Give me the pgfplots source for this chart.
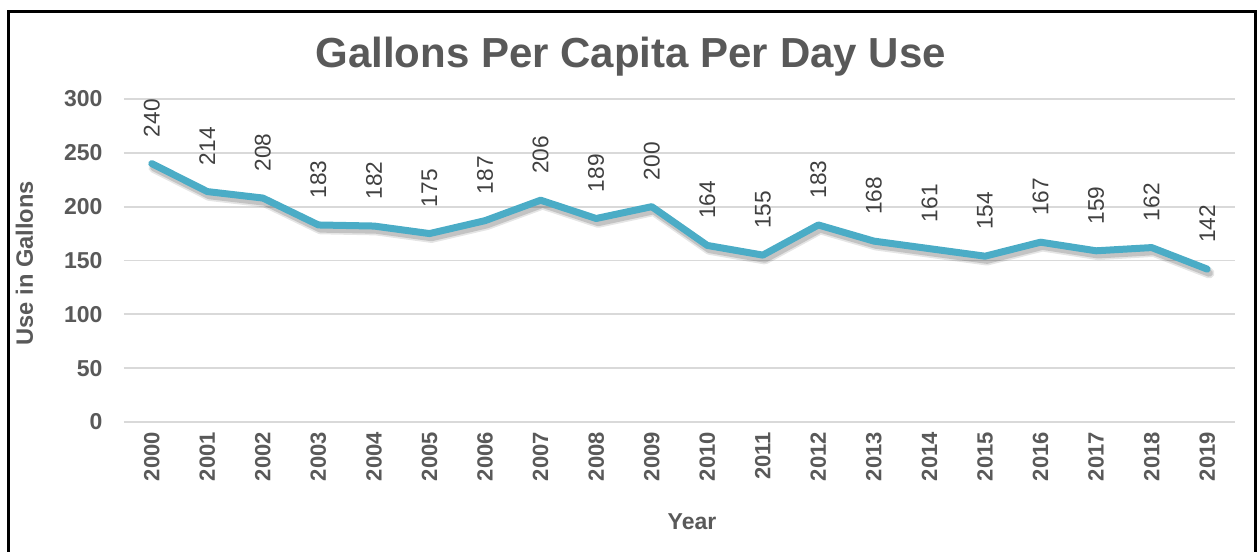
\documentclass[border=0pt]{standalone}
\usepackage{fontspec}
\setmainfont{Liberation Sans}
\usepackage{pgfplots}
\pgfplotsset{compat=1.18}
\definecolor{txt}{HTML}{595959}
\definecolor{lbl}{HTML}{404040}
\definecolor{gridc}{HTML}{D9D9D9}
\definecolor{linec}{HTML}{4BACC6}
\begin{document}
\begin{tikzpicture}
\useasboundingbox (-93pt,-97.5pt) rectangle (849.75pt,316.5pt);
\begin{axis}[
  at={(0,0)}, anchor=south west,
  scale only axis, width=833.25pt, height=242.25pt,
  xmin=-0.5, xmax=19.5, ymin=0, ymax=300,
  ytick={0,50,100,150,200,250,300},
  xtick={0,...,19},
  xticklabels={2000,2001,2002,2003,2004,2005,2006,2007,2008,2009,2010,2011,2012,2013,2014,2015,2016,2017,2018,2019},
  /pgf/number format/assume math mode=true,
  axis line style={draw=none},
  major tick length=0pt,
  ymajorgrids,
  major grid style={color=gridc, line width=1.3pt},
  yticklabel style={font=\bfseries\fontsize{17.25}{17.25}\selectfont, color=txt, inner sep=0pt, anchor=east, xshift=-16pt},
  xticklabel style={font=\bfseries\fontsize{16.5}{16.5}\selectfont, color=txt, inner sep=0pt, yshift=-7.5pt, rotate=90, anchor=east},
  clip=false,
]
\addplot[black, opacity=0.10, line width=8pt, line join=round, line cap=round, xshift=1.5pt, yshift=-3pt, forget plot]
  coordinates {(0,240)(1,214)(2,208)(3,183)(4,182)(5,175)(6,187)(7,206)(8,189)(9,200)(10,164)(11,155)(12,183)(13,168)(14,161)(15,154)(16,167)(17,159)(18,162)(19,142)};
\addplot[black, opacity=0.15, line width=5.5pt, line join=round, line cap=round, xshift=1.5pt, yshift=-3pt, forget plot]
  coordinates {(0,240)(1,214)(2,208)(3,183)(4,182)(5,175)(6,187)(7,206)(8,189)(9,200)(10,164)(11,155)(12,183)(13,168)(14,161)(15,154)(16,167)(17,159)(18,162)(19,142)};
\addplot[linec, line width=5.25pt, line join=round, line cap=round,
  nodes near coords,
  nodes near coords style={font=\fontsize{17}{17}\selectfont, color=lbl, inner sep=0pt, yshift=17.25pt, rotate=90, anchor=west}]
  coordinates {(0,240)(1,214)(2,208)(3,183)(4,182)(5,175)(6,187)(7,206)(8,189)(9,200)(10,164)(11,155)(12,183)(13,168)(14,161)(15,154)(16,167)(17,159)(18,162)(19,142)};
\end{axis}
\node[anchor=base, font=\bfseries\fontsize{31.5}{31.5}\selectfont, color=txt, inner sep=0pt] at (380pt,265.5pt) {Gallons Per Capita Per Day Use};
\node[anchor=base, rotate=90, font=\bfseries\fontsize{17.75}{17.75}\selectfont, color=txt, inner sep=0pt] at (-68.25pt,119pt) {Use in Gallons};
\node[anchor=base, font=\bfseries\fontsize{17.25}{17.25}\selectfont, color=txt, inner sep=0pt] at (426pt,-81pt) {Year};
\draw[line width=2.25pt] (-86.6pt,-150pt) rectangle (848.6pt,307.9pt);
\end{tikzpicture}
\end{document}
